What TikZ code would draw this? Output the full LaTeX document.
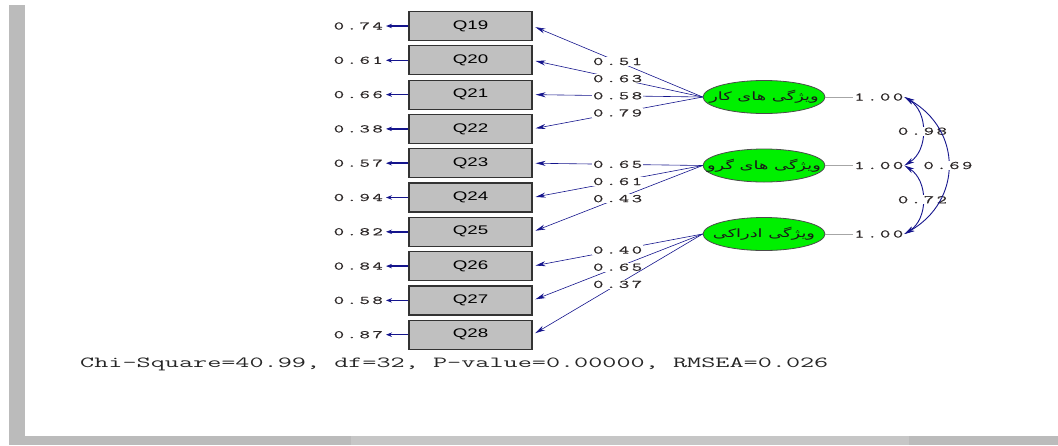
\documentclass[tikz,border=0pt]{standalone}
\usepackage{fontspec}
\setmainfont{Liberation Sans}
\newfontfamily\boxfont[FakeStretch=1.5]{Liberation Sans}
\newfontfamily\numfont[FakeStretch=1.75,LetterSpace=22,FakeBold=0.6]{Latin Modern Mono}
\newfontfamily\fitfont[FakeStretch=1.78]{Latin Modern Mono}
\newfontfamily\farsifont[Script=Arabic,FakeStretch=1.55]{DejaVu Sans}
\TeXXeTstate=1
\usetikzlibrary{arrows.meta,shapes.geometric}

\definecolor{lisgray}{RGB}{192,192,192}
\definecolor{lisgreen}{RGB}{0,240,0}
\definecolor{lisnavy}{RGB}{20,20,140}
\definecolor{framegray}{RGB}{187,187,187}
\definecolor{framelight}{RGB}{198,198,198}
\definecolor{numtext}{RGB}{45,40,40}

% latent names may run past the ellipse, as in the output
\newcommand{\farsi}[1]{\makebox[0pt]{\beginR #1\endR}}

\tikzset{
  obsbox/.style={draw=black!80, fill=lisgray, line width=1.2pt, minimum width=123pt, minimum height=29pt, inner sep=0pt, font=\boxfont\fontsize{12.5}{14}\selectfont},
  latent/.style={ellipse, draw=black!70, fill=lisgreen, line width=0.8pt, minimum width=122pt, minimum height=33pt, inner sep=0pt, text=black!90, font=\farsifont\fontsize{11.5}{13}\selectfont},
  numlabel/.style={font=\numfont\fontsize{11.5}{13}\selectfont, text=numtext, inner sep=1pt},
  loadlabel/.style={numlabel, fill=white},
  loading/.style={lisnavy, line width=0.6pt, shorten >=3pt, -{Stealth[length=10pt,width=5pt]}},
  errarrow/.style={lisnavy, line width=1.5pt, shorten >=2pt, -{Stealth[length=6pt,width=4.5pt]}},
  covarc/.style={lisnavy, line width=0.9pt, {Stealth[length=10pt,width=5pt]}-{Stealth[length=10pt,width=5pt]}},
  varline/.style={gray!70, line width=0.5pt},
}

\begin{document}
\begin{tikzpicture}[x=1pt,y=-1pt]
        \useasboundingbox (0,0) rectangle (1058,445);
        \fill[framegray] (9,5) rectangle (25,445);          % frame left
        \fill[framegray] (9,436) rectangle (1058,445);      % frame bottom
        \fill[framelight] (351,436) rectangle (909,445);

        % observed variables
        \node[obsbox] (q19) at (470.5,26) {Q19};
        \node[obsbox] (q20) at (470.5,60.3) {Q20};
        \node[obsbox] (q21) at (470.5,94.6) {Q21};
        \node[obsbox] (q22) at (470.5,128.9) {Q22};
        \node[obsbox] (q23) at (470.5,163.2) {Q23};
        \node[obsbox] (q24) at (470.5,197.5) {Q24};
        \node[obsbox] (q25) at (470.5,231.8) {Q25};
        \node[obsbox] (q26) at (470.5,266.1) {Q26};
        \node[obsbox] (q27) at (470.5,300.4) {Q27};
        \node[obsbox] (q28) at (470.5,334.7) {Q28};

        % error terms
        \node[numlabel, anchor=east] (e19) at (384,26) {0.74};
        \node[numlabel, anchor=east] (e20) at (384,60.3) {0.61};
        \node[numlabel, anchor=east] (e21) at (384,94.6) {0.66};
        \node[numlabel, anchor=east] (e22) at (384,128.9) {0.38};
        \node[numlabel, anchor=east] (e23) at (384,163.2) {0.57};
        \node[numlabel, anchor=east] (e24) at (384,197.5) {0.94};
        \node[numlabel, anchor=east] (e25) at (384,231.8) {0.82};
        \node[numlabel, anchor=east] (e26) at (384,266.1) {0.84};
        \node[numlabel, anchor=east] (e27) at (384,300.4) {0.58};
        \node[numlabel, anchor=east] (e28) at (384,334.7) {0.87};
        \draw[errarrow] (q19.west) -- (e19.east);
        \draw[errarrow] (q20.west) -- (e20.east);
        \draw[errarrow] (q21.west) -- (e21.east);
        \draw[errarrow] (q22.west) -- (e22.east);
        \draw[errarrow] (q23.west) -- (e23.east);
        \draw[errarrow] (q24.west) -- (e24.east);
        \draw[errarrow] (q25.west) -- (e25.east);
        \draw[errarrow] (q26.west) -- (e26.east);
        \draw[errarrow] (q27.west) -- (e27.east);
        \draw[errarrow] (q28.west) -- (e28.east);

        % latent variables
        \node[latent] (work) at (764,97) {\farsi{ویژگی های کار}};
        \node[latent] (group) at (764,165.5) {\farsi{ویژگی های گرو}};
        \node[latent] (percep) at (764,234) {\farsi{ویژگی ادراکی}};

        % loadings
        \draw[loading] (work.west) -- node[loadlabel] {0.51} (q19.east);
        \draw[loading] (work.west) -- node[loadlabel] {0.63} (q20.east);
        \draw[loading] (work.west) -- node[loadlabel] {0.58} (q21.east);
        \draw[loading] (work.west) -- node[loadlabel] {0.79} (q22.east);
        \draw[loading] (group.west) -- node[loadlabel] {0.65} (q23.east);
        \draw[loading] (group.west) -- node[loadlabel] {0.61} (q24.east);
        \draw[loading] (group.west) -- node[loadlabel] {0.43} (q25.east);
        \draw[loading] (percep.west) -- node[loadlabel] {0.40} (q26.east);
        \draw[loading] (percep.west) -- node[loadlabel] {0.65} (q27.east);
        \draw[loading] (percep.west) -- node[loadlabel] {0.37} (q28.east);

        % variances
        \node[numlabel, anchor=west] (v1) at (853,97) {1.00};
        \node[numlabel, anchor=west] (v2) at (853,165.5) {1.00};
        \node[numlabel, anchor=west] (v3) at (853,234) {1.00};
        \draw[varline] (work.east) -- (v1.west);
        \draw[varline] (group.east) -- (v2.west);
        \draw[varline] (percep.east) -- (v3.west);

        % covariances
        \draw[covarc] (v1.east) .. controls +(24,15) and +(24,-15) .. node[loadlabel] {0.98} (v2.east);
        \draw[covarc] (v2.east) .. controls +(24,15) and +(24,-15) .. node[loadlabel] {0.72} (v3.east);
        \draw[covarc] (v1.east) .. controls +(58,33) and +(58,-33) .. node[loadlabel] {0.69} (v3.east);

        \node[font=\fitfont\fontsize{15.4}{17}\selectfont, anchor=base west, text=black!85, inner sep=0pt] (fit) at (80,367) {Chi-Square=40.99, df=32, P-value=0.00000, RMSEA=0.026};
\end{tikzpicture}
\end{document}
